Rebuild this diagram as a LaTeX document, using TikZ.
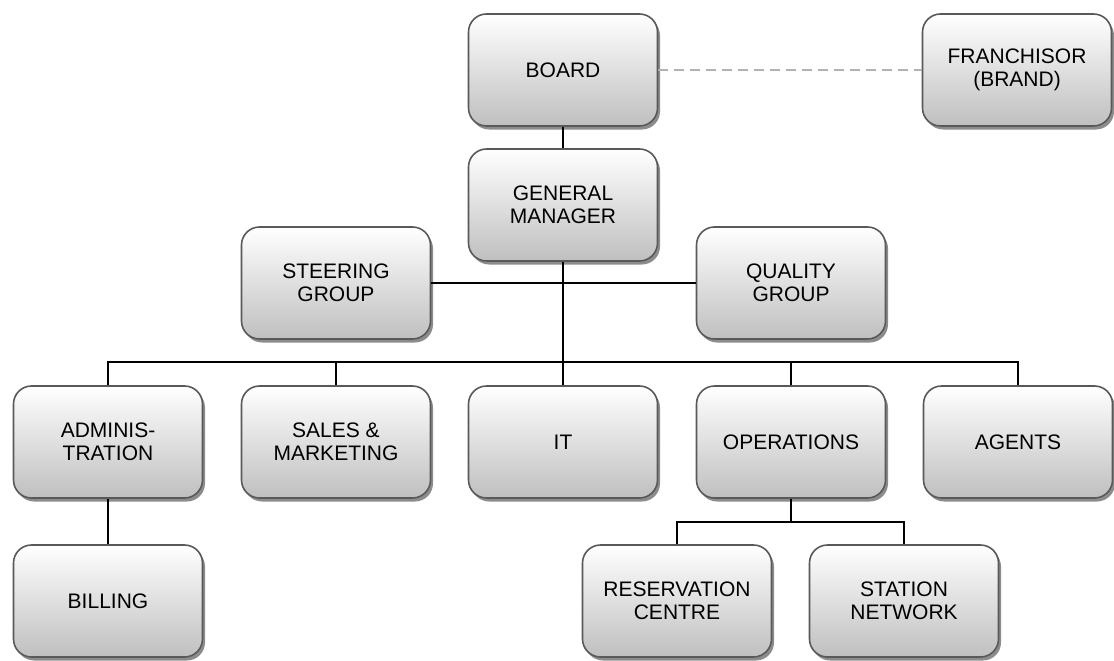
\documentclass[tikz,border=0pt]{standalone}
\usepackage{fontspec}
\setmainfont{Liberation Sans}
\usetikzlibrary{shadows}
\tikzset{
  box/.style={draw=black!65, line width=1.6pt, rounded corners=18pt,
    top color=white, bottom color=black!25, minimum width=189pt, minimum height=112pt,
    align=center, text=black, font=\fontsize{21}{23}\selectfont,
    drop shadow={shadow xshift=2.5pt, shadow yshift=-3.5pt, opacity=0.6, fill=black!75}},
  conn/.style={line width=1.3pt, black},
  dashconn/.style={line width=1.3pt, black!30, dash pattern=on 10pt off 6pt}
}
\begin{document}
\begin{tikzpicture}[x=1pt,y=-1pt]
\useasboundingbox (0,0) rectangle (1114,661);
\node[box] (board) at (563,70) {BOARD};
\node[box] (fran) at (1017,70) {FRANCHISOR\\(BRAND)};
\node[box] (gm) at (563,205) {GENERAL\\MANAGER};
\node[box] (steer) at (336,283) {STEERING\\GROUP};
\node[box] (qual) at (791,283) {QUALITY\\GROUP};
\node[box] (admin) at (108,442) {ADMINIS-\\TRATION};
\node[box] (sales) at (336,442) {SALES \&\\MARKETING};
\node[box] (it) at (563,442) {IT};
\node[box] (ops) at (791,442) {OPERATIONS};
\node[box] (agents) at (1018,442) {AGENTS};
\node[box] (bill) at (108,601) {BILLING};
\node[box] (res) at (677,601) {RESERVATION\\CENTRE};
\node[box] (stat) at (904,601) {STATION\\NETWORK};
\coordinate (bus) at (563,362);
\coordinate (obus) at (791,522);
\draw[dashconn] (board.east) -- (fran.west);
\draw[conn] (board.south) -- (gm.north);
\draw[conn] (steer.east) -- (qual.west);
\draw[conn] (gm.south) -- (bus);
\draw[conn] (admin.north) |- (bus) -| (agents.north);
\draw[conn] (sales.north) -- (sales.north |- bus);
\draw[conn] (it.north) -- (bus);
\draw[conn] (ops.north) -- (ops.north |- bus);
\draw[conn] (admin.south) -- (bill.north);
\draw[conn] (ops.south) -- (obus);
\draw[conn] (res.north) |- (obus) -| (stat.north);
\end{tikzpicture}
\end{document}
